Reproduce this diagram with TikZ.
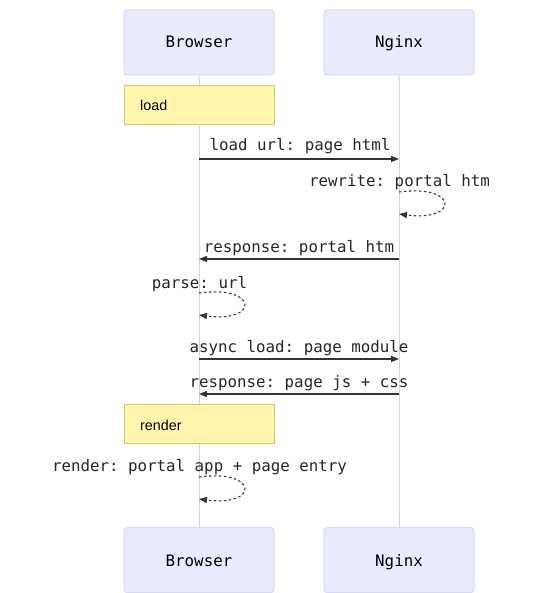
\documentclass[tikz,border=0pt]{standalone}
\usepackage{fontspec}
\setmainfont{Liberation Sans}
\setmonofont{DejaVu Sans Mono}
\usetikzlibrary{arrows.meta,calc}
\definecolor{actfill}{HTML}{EAEAFD}
\definecolor{actline}{HTML}{D8D8FC}
\definecolor{notefill}{HTML}{FFF5AD}
\definecolor{noteline}{HTML}{CCCC66}
\definecolor{lifeline}{HTML}{D4D4D4}
\definecolor{msg}{HTML}{333333}
\begin{document}
\begin{tikzpicture}[x=1pt,y=-1pt,
  actor/.style={draw=actline,fill=actfill,rounded corners=3pt,minimum width=150pt,minimum height=65pt,inner sep=0pt,line width=1pt},
  actorlabel/.style={font=\fontsize{15.8}{18}\ttfamily,text=black,anchor=base},
  note/.style={draw=noteline,fill=notefill,line width=0.8pt},
  notelabel/.style={font=\fontsize{14.3}{16}\selectfont,text=black,anchor=base west,inner sep=0pt},
  msglabel/.style={font=\fontsize{15.8}{18}\ttfamily,text=black!85,anchor=base,inner sep=0pt},
  msgline/.style={draw=msg,line width=1.2pt,-{Triangle[length=8pt,width=6pt]}},
  loopline/.style={draw=msg,line width=1.1pt,dash pattern=on 2.5pt off 2.5pt,-{Triangle[length=8pt,width=6pt]}},
  life/.style={draw=lifeline,line width=1pt}]
\useasboundingbox (0,0) rectangle (549,593);
% actors
\node[actor] (bt) at (199,42.5) {};
\node[actor] (nt) at (399,42.5) {};
\node[actor] (bb) at (199,560) {};
\node[actor] (nb) at (399,560) {};
\node[actorlabel] (btl) at (199,48) {Browser};
\node[actorlabel] (ntl) at (399,48) {Nginx};
\node[actorlabel] (bbl) at (199,566) {Browser};
\node[actorlabel] (nbl) at (399,566) {Nginx};
% lifelines
\draw[life] (bt.south) -- (bb.north);
\draw[life] (nt.south) -- (nb.north);
% notes
\node[note,minimum width=150pt,minimum height=39pt,inner sep=0pt] (n1) at (199,104.5) {};
\node[notelabel] (n1l) at (140,111) {load};
% coordinates on lifelines
\coordinate (b1) at (199,159);
\coordinate (n1c) at (399,159);
\coordinate (r1) at (399,192);
\coordinate (r2) at (399,214);
\coordinate (b2) at (199,259);
\coordinate (n2) at (399,259);
\coordinate (p1) at (199,293);
\coordinate (p2) at (199,315);
\coordinate (b3) at (199,359);
\coordinate (n3) at (399,359);
\coordinate (b4) at (199,394);
\coordinate (n4) at (399,394);
\coordinate (q1) at (199,477);
\coordinate (q2) at (199,499);
% messages
\node[msglabel] (m1) at (300,151) {load url: page html};
\draw[msgline] (b1) -- (n1c);
\node[msglabel] (m2) at (399.5,187) {rewrite: portal htm};
\draw[loopline] (r1) .. controls ($(r1)+(60,-8)$) and ($(r2)+(60,8)$) .. (r2);
\node[msglabel] (m3) at (299,252) {response: portal htm};
\draw[msgline] (n2) -- (b2);
\node[msglabel] (m4) at (199.5,288) {parse: url};
\draw[loopline] (p1) .. controls ($(p1)+(60,-8)$) and ($(p2)+(60,8)$) .. (p2);
\node[msglabel] (m5) at (299,352) {async load: page module};
\draw[msgline] (b3) -- (n3);
\node[msglabel] (m6) at (299,387) {response: page js + css};
\draw[msgline] (n4) -- (b4);
\node[note,minimum width=150pt,minimum height=39pt,inner sep=0pt] (n2n) at (199,423.5) {};
\node[notelabel] (n2l) at (140,430) {render};
\node[msglabel] (m7) at (199.5,471) {render: portal app + page entry};
\draw[loopline] (q1) .. controls ($(q1)+(60,-8)$) and ($(q2)+(60,8)$) .. (q2);
\end{tikzpicture}
\end{document}
